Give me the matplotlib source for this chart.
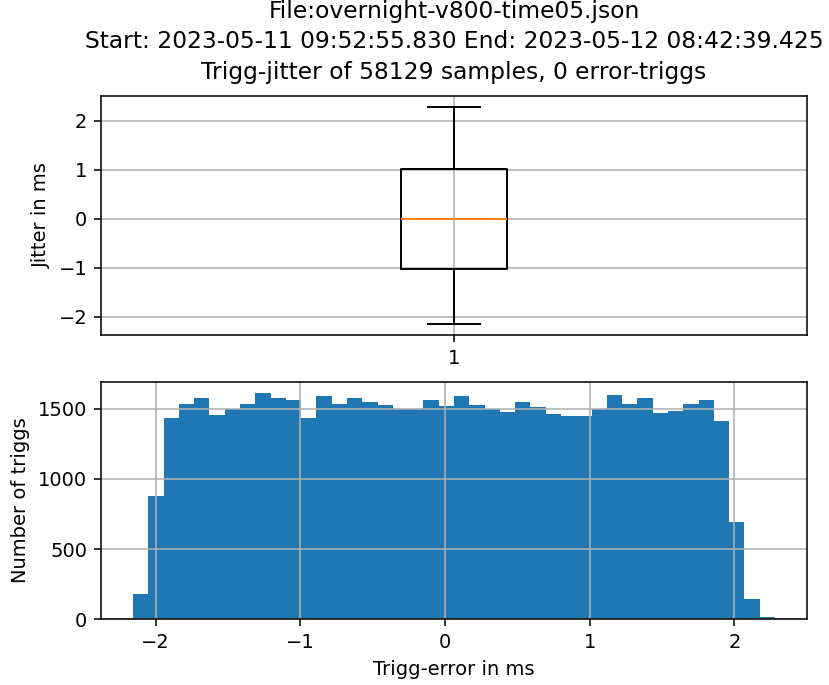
import numpy as np
import matplotlib
matplotlib.use('Agg')
import matplotlib.pyplot as plt

DPI = 140
W, H = 829, 685

TITLE = ("File:overnight-v800-time05.json\n"
         "Start: 2023-05-11 09:52:55.830 End: 2023-05-12 08:42:39.425\n"
         "Trigg-jitter of 58129 samples, 0 error-triggs")

# box plot summary (ms)
box_stats = [{
    'med': 0.0,
    'q1': -1.02,
    'q3': 1.01,
    'whislo': -2.15,
    'whishi': 2.28,
    'fliers': [],
    'label': '1',
}]

# histogram: data range and counts per bin (42 bins)
data_min = -2.155
data_max = 2.28
counts = [178, 878, 1434, 1533, 1576, 1457, 1498, 1536, 1612, 1576,
          1564, 1434, 1588, 1536, 1576, 1545, 1526, 1500, 1500, 1564,
          1517, 1593, 1524, 1500, 1477, 1545, 1514, 1465, 1446, 1446,
          1500, 1595, 1536, 1576, 1467, 1486, 1536, 1564, 1415, 695,
          147, 16]

edges = np.linspace(data_min, data_max, len(counts) + 1)
centers = (edges[:-1] + edges[1:]) / 2

fig = plt.figure(figsize=(W / DPI, H / DPI), dpi=DPI)
ax1 = fig.add_axes([101 / W, 1 - 335 / H, 706 / W, 239 / H])
ax2 = fig.add_axes([101 / W, 1 - 619.3 / H, 706 / W, 237.6 / H])

ax1.bxp(box_stats)
ax1.set_ylabel('Jitter in ms')
ax1.set_title(TITLE, pad=9, linespacing=1.4)
ax1.grid()

ax2.hist(centers, bins=edges, weights=counts)
ax2.set_xlabel('Trigg-error in ms')
ax2.set_ylabel('Number of triggs')
ax2.grid()

fig.savefig('out.png', dpi=DPI)
